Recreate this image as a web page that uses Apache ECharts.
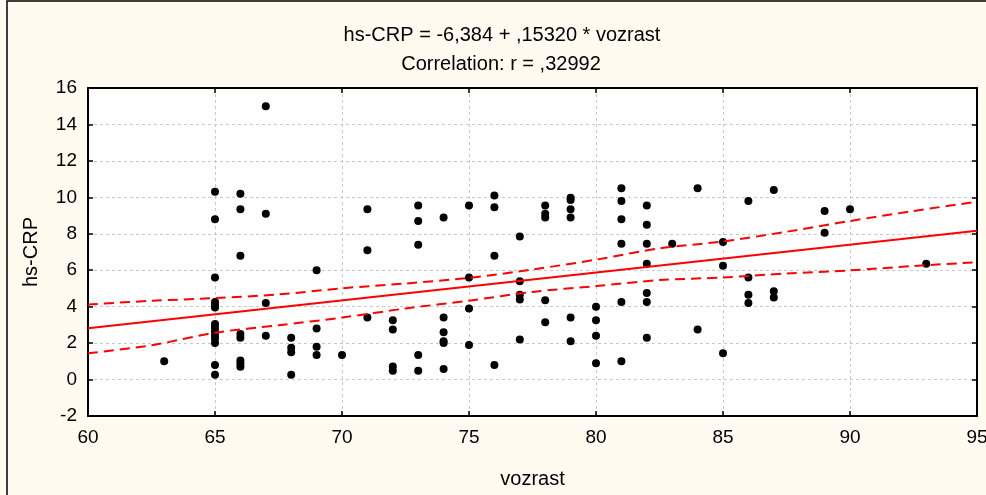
<!DOCTYPE html>
<html>
<head>
<meta charset="utf-8">
<script src="https://cdn.jsdelivr.net/npm/echarts@6/dist/echarts.min.js"></script>
<style>
html,body{margin:0;padding:0;background:#FFFBF0;}
#c{width:986px;height:495px;}
</style>
</head>
<body>
<div id="c"></div>
<script>
// Scatter data: age (vozrast) and hs-CRP values
const ages = [
  63,
  65,65,65,65,65,65,65,65,65,65,65,65,65,65,
  66,66,66,66,66,66,66,66,
  67,67,67,67,
  68,68,68,68,
  69,69,69,69,
  70,
  71,71,71,
  72,72,72,72,
  73,73,73,73,73,
  74,74,74,74,74,74,
  75,75,75,75,
  76,76,76,76,
  77,77,77,77,77,
  78,78,78,78,78,
  79,79,79,79,79,79,
  80,80,80,80,
  81,81,81,81,81,81,
  82,82,82,82,82,82,82,
  83,
  84,84,
  85,85,85,
  86,86,86,86,
  87,87,87,
  89,89,
  90,
  93
];
const hsCRP = [
  1.0,
  10.3,8.8,5.6,4.25,4.1,3.95,3.05,2.85,2.65,2.45,2.25,2.0,0.8,0.27,
  10.2,9.35,6.8,2.5,2.3,1.05,0.88,0.7,
  15.0,9.1,4.2,2.4,
  2.3,1.75,1.5,0.27,
  6.0,2.8,1.8,1.35,
  1.35,
  9.35,7.1,3.4,
  3.25,2.75,0.72,0.48,
  9.55,8.7,7.4,1.35,0.48,
  8.9,3.4,2.6,2.1,2.0,0.58,
  9.55,5.6,3.9,1.9,
  10.1,9.45,6.8,0.8,
  7.85,5.4,4.65,4.4,2.2,
  9.55,9.1,8.9,4.35,3.15,
  9.98,9.85,9.35,8.9,3.4,2.1,
  4.0,3.25,2.4,0.9,
  10.5,9.8,8.8,7.45,4.25,1.0,
  9.55,8.5,7.45,6.35,4.75,4.25,2.3,
  7.45,
  10.5,2.75,
  7.55,6.25,1.45,
  9.8,5.6,4.65,4.2,
  10.4,4.85,4.5,
  9.25,8.05,
  9.35,
  6.35
];
// Regression line endpoints (hs-CRP = -6,384 + ,15320 * vozrast)
const fitX = [60, 95];
const fitY = [2.81, 8.17];
// 95% confidence band
const bandX = [60, 62.5, 65, 67.5, 70, 72.5, 75, 77.5, 80, 82.5, 85, 87.5, 90, 92.5, 95];
const bandUpper = [4.12, 4.32, 4.47, 4.67, 5.01, 5.27, 5.58, 6.04, 6.58, 7.2, 7.58, 8.11, 8.7, 9.25, 9.76];
const bandLower = [1.44, 1.88, 2.57, 2.98, 3.4, 3.9, 4.33, 4.81, 5.13, 5.46, 5.6, 5.82, 5.99, 6.23, 6.44];
// Axis ticks
const xTicks = {min: 60, max: 95, step: 5};
const yTicks = {min: -2, max: 16, step: 2};

const titleLine1 = 'hs-CRP = -6,384 + ,15320 * vozrast';
const titleLine2 = 'Correlation: r = ,32992';

const zip = (a, b) => a.map((v, i) => [v, b[i]]);
const font = 'Liberation Sans, Arial, sans-serif';

const chart = echarts.init(document.getElementById('c'), null, {renderer: 'canvas'});

const gridLine = {show: true, lineStyle: {color: '#c8c8c8', type: [3, 3], width: 1}};
const axisLine = {show: true, onZero: false, lineStyle: {color: '#000', width: 2}};
const axisTick = {show: true, inside: true, length: 5, lineStyle: {color: '#000', width: 1.5}};

chart.setOption({
  backgroundColor: '#FFFBF0',
  animation: false,
  title: [
    {text: titleLine1, left: 497, top: 20, textAlign: 'center',
     textStyle: {fontFamily: font, fontSize: 20, fontWeight: 'normal', color: '#000'}},
    {text: titleLine2, left: 496, top: 49, textAlign: 'center',
     textStyle: {fontFamily: font, fontSize: 20, fontWeight: 'normal', color: '#000'}}
  ],
  graphic: [
    {type: 'rect', shape: {x: 7, y: 1, width: 1000, height: 520},
     style: {fill: 'none', stroke: '#000', lineWidth: 1.5}, silent: true, z: 100}
  ],
  grid: {left: 88, right: 9, top: 88, bottom: 79, show: true, backgroundColor: '#fff', borderWidth: 0,
         outerBoundsMode: 'none', containLabel: false},
  xAxis: [
    {type: 'value', min: xTicks.min, max: xTicks.max, interval: xTicks.step, position: 'bottom',
     name: 'vozrast', nameLocation: 'middle', nameGap: 53,
     nameTextStyle: {fontFamily: font, fontSize: 20, color: '#000'},
     axisLine: axisLine, axisTick: axisTick, splitLine: gridLine,
     axisLabel: {fontFamily: font, fontSize: 19, color: '#000', margin: 12}},
    {type: 'value', min: xTicks.min, max: xTicks.max, interval: xTicks.step, position: 'top',
     axisLine: axisLine, axisTick: axisTick, splitLine: {show: false}, axisLabel: {show: false}}
  ],
  yAxis: [
    {type: 'value', min: yTicks.min, max: yTicks.max, interval: yTicks.step, position: 'left',
     name: 'hs-CRP', nameLocation: 'middle', nameGap: 47, nameRotate: 90,
     nameTextStyle: {fontFamily: font, fontSize: 20, color: '#000'},
     axisLine: axisLine, axisTick: axisTick, splitLine: gridLine,
     axisLabel: {fontFamily: font, fontSize: 19, color: '#000', margin: 11}},
    {type: 'value', min: yTicks.min, max: yTicks.max, interval: yTicks.step, position: 'right',
     axisLine: axisLine, axisTick: axisTick, splitLine: {show: false}, axisLabel: {show: false}}
  ],
  series: [
    {type: 'scatter', data: zip(ages, hsCRP), symbol: 'circle', symbolSize: 8,
     itemStyle: {color: '#000', opacity: 1}, z: 2},
    {type: 'line', data: zip(fitX, fitY), showSymbol: false, symbol: 'none',
     lineStyle: {color: '#ff0000', width: 2}, z: 3},
    {type: 'line', data: zip(bandX, bandUpper), showSymbol: false, symbol: 'none', smooth: 0.3,
     lineStyle: {color: '#ff0000', width: 2, type: [10, 6]}, z: 3},
    {type: 'line', data: zip(bandX, bandLower), showSymbol: false, symbol: 'none', smooth: 0.3,
     lineStyle: {color: '#ff0000', width: 2, type: [10, 6]}, z: 3}
  ]
});
</script>
</body>
</html>
